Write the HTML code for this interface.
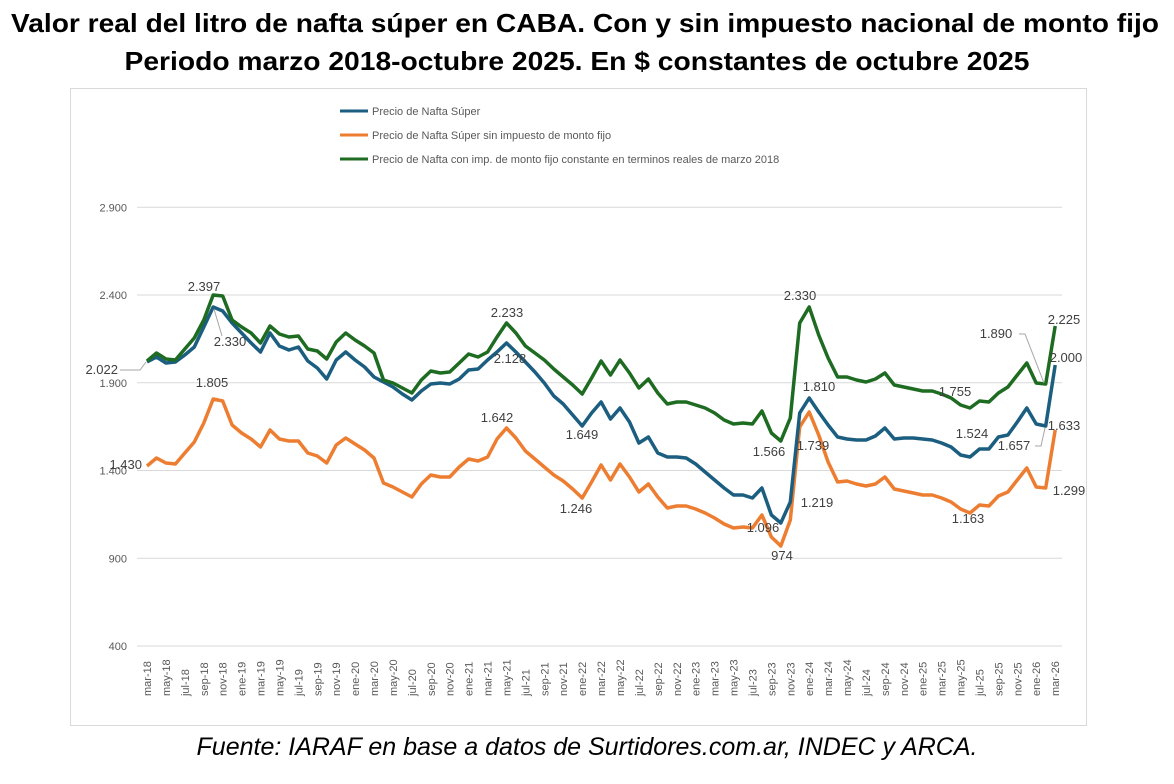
<!DOCTYPE html>
<html><head><meta charset="utf-8"><style>
body{margin:0;background:#fff;width:1174px;height:779px;overflow:hidden;font-family:"Liberation Sans",sans-serif}
</style></head><body>
<svg id="s" width="1174" height="779" xmlns="http://www.w3.org/2000/svg" font-family="Liberation Sans, sans-serif">
<text x="585" y="32" text-anchor="middle" font-size="26" font-weight="bold" fill="#000" textLength="1148" lengthAdjust="spacingAndGlyphs">Valor real del litro de nafta súper en CABA. Con y sin impuesto nacional de monto fijo</text>
<text x="577" y="70" text-anchor="middle" font-size="26" font-weight="bold" fill="#000" textLength="905" lengthAdjust="spacingAndGlyphs">Periodo marzo 2018-octubre 2025. En $ constantes de octubre 2025</text>
<rect x="70.5" y="88.5" width="1016" height="637" fill="none" stroke="#d9d9d9"/>
<g font-size="11" fill="#595959">
<line x1="340" y1="111" x2="368" y2="111" stroke="#1b5e80" stroke-width="3"/><text x="372" y="115">Precio de Nafta Súper</text>
<line x1="340" y1="135" x2="368" y2="135" stroke="#ed7d31" stroke-width="3"/><text x="372" y="139">Precio de Nafta Súper sin impuesto de monto fijo</text>
<line x1="340" y1="159" x2="368" y2="159" stroke="#1e6b22" stroke-width="3"/><text x="372" y="163">Precio de Nafta con imp. de monto fijo constante en terminos reales de marzo 2018</text>
</g>
<g id="grid"></g>
<g id="lines"></g>
<g font-size="13" fill="#404040" text-anchor="middle">
<text x="118" y="374" text-anchor="end">2.022</text>
<polyline points="120,370 140,370 146,362" fill="none" stroke="#a6a6a6"/>
<text x="142" y="469" text-anchor="end">1.430</text>
<text x="204" y="291">2.397</text><text x="230" y="346">2.330</text>
<polyline points="214,309 222,336" fill="none" stroke="#a6a6a6"/>
<text x="212" y="387">1.805</text><text x="507" y="317">2.233</text>
<text x="510" y="363">2.128</text><text x="497" y="422">1.642</text>
<text x="582" y="439">1.649</text><text x="576" y="513">1.246</text>
<text x="800" y="300">2.330</text><text x="819" y="391">1.810</text>
<text x="813" y="450">1.739</text><text x="769" y="456">1.566</text>
<text x="817" y="507">1.219</text><text x="763" y="532">1.096</text>
<text x="782" y="560">974</text><text x="955" y="396">1.755</text>
<text x="972" y="438">1.524</text><text x="968" y="523">1.163</text>
<text x="996" y="338">1.890</text><text x="1014" y="450">1.657</text>
<text x="1064" y="324">2.225</text><text x="1066" y="362">2.000</text>
<text x="1064" y="430">1.633</text><text x="1069" y="495">1.299</text>
<polyline points="1019,334 1025,334 1044,383" fill="none" stroke="#a6a6a6"/>
<polyline points="1035,446 1041,446 1045,428" fill="none" stroke="#a6a6a6"/>
</g>
</svg>
<div style="position:absolute;left:0;top:733px;width:1174px;text-align:center;font-style:italic;font-size:25px;color:#000">Fuente: IARAF en base a datos de Surtidores.com.ar, INDEC y ARCA.</div>
<script>
const NS="http://www.w3.org/2000/svg";
function el(p,t,a,txt){const e=document.createElementNS(NS,t);for(const k in a)e.setAttribute(k,a[k]);if(txt)e.textContent=txt;p.appendChild(e);return e;}
const g=document.getElementById('grid');
const ticks=[400,900,1400,1900,2400,2900];
ticks.forEach(v=>{const y=646-(v-400)*0.1755;
 el(g,'line',{x1:137,x2:1062,y1:y,y2:y,stroke:'#d9d9d9','stroke-width':1});
 el(g,'text',{x:127,y:y+4,'text-anchor':'end','font-size':11,fill:'#595959'},v===400||v===900?String(v):(String(v).slice(0,1)+'.'+String(v).slice(1)));});
const X=i=>147+9.46*i;
const mon=['mar','may','jul','sep','nov','ene'];
for(let k=0;k<=48;k++){const i=2*k;const m=mon[k%6];const yr=18+Math.floor((i+2)/12);
 const x=X(i)+4;el(g,'text',{x:x,y:696,transform:`rotate(-90 ${x} 696)`,'font-size':11,fill:'#595959'},m+'-'+yr);}
const G=[361,353,359,360,349,338,320,295,296,320,327,333,343,326,334,337,336,349,351,359,342,333,340,346,353,380,383,388,393,380,371,373,372,363,354,357,352,337,323,333,346,353,360,369,377,385,394,378,361,375,360,373,388,379,393,404,402,402,405,408,413,420,424,423,424,411,433,441,418,323,307,335,358,377,377,380,382,379,373,385,387,389,391,391,394,398,405,408,401,402,393,387,375,363,383,384,326];
const B=[362,357,363,362,355,347,327,307,311,323,333,343,352,333,346,350,347,361,368,379,360,352,360,367,377,382,387,394,400,391,384,383,384,379,370,369,360,352,343,352,362,372,383,396,404,415,426,413,402,419,408,422,443,437,453,457,457,458,464,472,480,488,495,495,498,488,515,523,502,413,398,412,425,437,439,440,440,436,428,439,438,438,439,440,443,447,455,457,449,449,437,435,422,408,424,426,365];
const O=[466,458,463,464,453,442,423,399,401,425,433,439,447,430,439,441,441,453,456,463,445,438,444,450,458,483,487,492,497,484,475,477,477,467,459,461,457,439,428,438,451,459,467,475,481,489,498,482,465,480,464,477,492,484,497,508,506,506,509,513,518,524,528,527,528,515,537,546,520,427,412,435,462,482,481,484,486,484,477,489,491,493,495,495,498,502,509,513,505,506,496,492,480,468,487,488,430];
const L=document.getElementById('lines');
[[O,'#ed7d31'],[B,'#1b5e80'],[G,'#1e6b22']].forEach(([d,c])=>{
 el(L,'polyline',{points:d.map((y,i)=>X(i).toFixed(1)+','+y).join(' '),fill:'none',stroke:c,'stroke-width':3.5,'stroke-linejoin':'round'});});
</script>
</body></html>
